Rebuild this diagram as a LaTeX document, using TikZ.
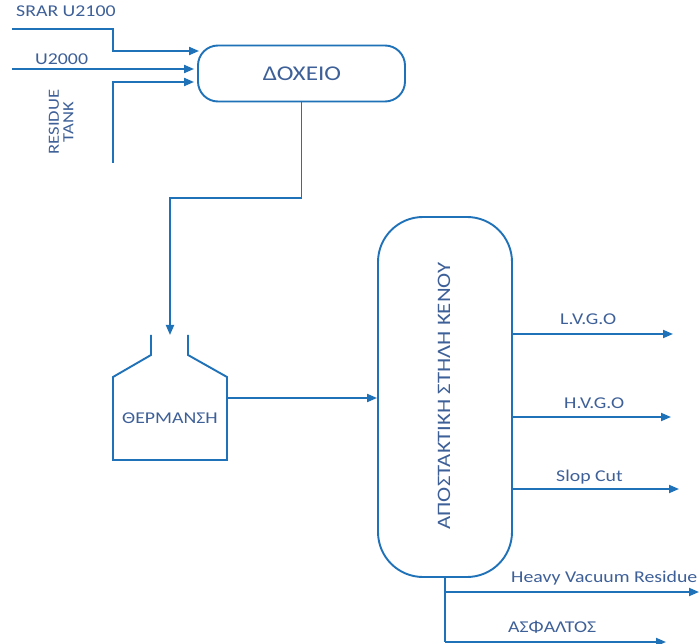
\documentclass[tikz,border=0pt]{standalone}
\usepackage{fontspec}
\setmainfont{Carlito}[FakeStretch=1.2]
\usetikzlibrary{arrows.meta,calc}
\definecolor{pipeblue}{RGB}{31,113,184}
\definecolor{inkblue}{RGB}{62,96,152}

\begin{document}
\begin{tikzpicture}[x=1pt,y=-1pt,
  pipe/.style={draw=pipeblue,line width=1.9pt},
  flow/.style={pipe,-{Triangle[length=10pt,width=8pt]}},
  lbl/.style={text=inkblue,font=\fontsize{16.5}{18}\selectfont,inner sep=0pt,anchor=base west},
  biglbl/.style={text=inkblue,font=\fontsize{21}{24}\selectfont,inner sep=0pt},
  vessel/.style={pipe,fill=white,inner sep=0pt}]
\useasboundingbox[fill=white] (0,0) rectangle (699,644);

% storage tank
\node[vessel,rounded corners=20pt,minimum width=207pt,minimum height=56pt] (tank) at (301.5,73.5) {};
\node[biglbl] (tanktxt) at (302,74) {ΔΟΧΕΙΟ};

% vacuum distillation column
\node[vessel,rounded corners=45pt,minimum width=134pt,minimum height=360pt] (col) at (445,397) {};
\node[biglbl,font=\fontsize{19}{22}\selectfont,rotate=90] (coltxt) at (444,396) {ΑΠΟΣΤΑΚΤΙΚΗ ΣΤΗΛΗ ΚΕΝΟΥ};

% furnace outline
\coordinate (heatin) at (170,335);
\coordinate (heatout) at (227,398);
\draw[pipe,line join=miter] (151,335) -- (151,355) -- (113,377) -- (113,460) -- (227,460)
  -- (227,377) -- (188,355) -- (188,335);
\node[lbl] (heattxt) at (122,423) {ΘΕΡΜΑΝΣΗ};

% feeds into the tank
\coordinate (srar) at (12,29);
\coordinate (u2k) at (12,69);
\coordinate (res) at (113,163);
\draw[flow] (srar) -- (113,29) -- (113,51) -- ($(tank.west)+(2,-22.5)$);
\draw[flow] (u2k) -- ($(tank.west)+(-3,-4.5)$);
\draw[flow] (res) -- (113,82) -- ($(tank.west)+(-3,8.5)$);
\node[lbl] (srartxt) at (16,17) {SRAR U2100};
\node[lbl] (u2ktxt) at (35,65) {U2000};
\node[text=inkblue,font=\fontsize{15.5}{14.5}\selectfont,align=center,rotate=90,inner sep=0pt] (restxt) at (61,122) {RESIDUE\\TANK};

% tank to furnace, furnace to column
\draw[flow] (tank.south) -- (301.5,198) -- (170,198) -- (heatin);
\draw[flow] (heatout) -- (col.west |- heatout);

% column products
\coordinate (lvgo) at (673,334);
\coordinate (hvgo) at (671,417);
\coordinate (slop) at (679,489);
\coordinate (hvr) at (699,592);
\coordinate (asph) at (666,642);
\draw[flow] (col.east |- lvgo) -- (lvgo);
\draw[flow] (col.east |- hvgo) -- (hvgo);
\draw[flow] (col.east |- slop) -- (slop);
\draw[pipe] (col.south) -- (445,642);
\draw[flow] (445,592) -- (hvr);
\draw[flow] (445,642) -- (asph);
\node[lbl] (lvgotxt) at (560,325) {L.V.G.O};
\node[lbl] (hvgotxt) at (564,408) {H.V.G.O};
\node[lbl] (sloptxt) at (556,481) {Slop Cut};
\node[lbl] (hvrtxt) at (511,582) {Heavy Vacuum Residue};
\node[lbl] (asphtxt) at (508,632) {ΑΣΦΑΛΤΟΣ};
\end{tikzpicture}
\end{document}
